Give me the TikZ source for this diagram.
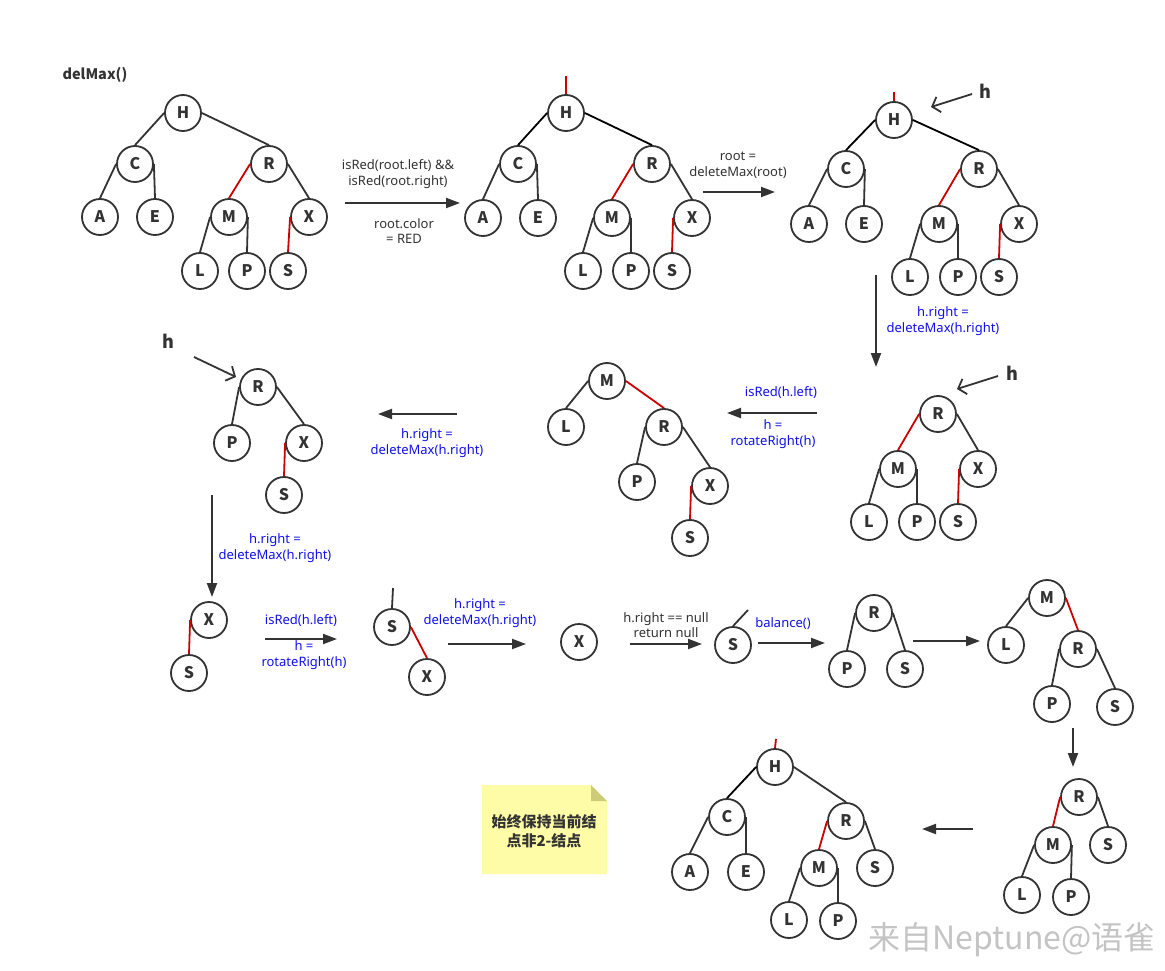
\documentclass[tikz,border=0pt]{standalone}
\usepackage{fontspec}
\setmainfont{Noto Sans}
\newfontfamily\cjkfont{Noto Sans CJK SC}
\usepackage{tikz}
\usetikzlibrary{arrows.meta,positioning,calc}
\definecolor{nodegray}{HTML}{333333}
\definecolor{linkred}{HTML}{CC0000}
\definecolor{opblue}{HTML}{1010F0}
\definecolor{notefill}{HTML}{FFFCA8}
\definecolor{notefold}{HTML}{CDCB78}
\definecolor{markgray}{HTML}{C4C4C4}
\tikzset{
  rbnode/.style={
    circle, draw=nodegray, line width=1.8pt, fill=white,
    minimum size=36pt, inner sep=0pt, text=nodegray,
    font=\cjkfont\bfseries\fontsize{16}{16}\selectfont
  },
  blink/.style={draw=nodegray, line width=1.8pt},
  rlink/.style={draw=linkred, line width=1.8pt},
  klink/.style={draw=black, line width=1.8pt},
  steparrow/.style={
    -{Triangle[length=14pt,width=10pt]}, draw=nodegray, line width=2pt
  },
  hpointer/.style={
    -{Straight Barb[length=7pt,width=16pt]}, draw=nodegray, line width=1.8pt
  },
  oplabel/.style={
    font=\fontsize{13}{15.5}\selectfont, text=nodegray, align=center
  },
  bluelabel/.style={oplabel, text=opblue},
  hlabel/.style={font=\cjkfont\bfseries\fontsize{18}{18}\selectfont, text=nodegray},
}

\begin{document}
\begin{tikzpicture}[x=1pt, y=-1pt]
\useasboundingbox[fill=white] (0,0) rectangle (1165,971);

\node[hlabel, font=\cjkfont\bfseries\fontsize{14.5}{14.5}\selectfont, anchor=west] (title) at (59,75) {delMax()};

% Tree 1: start
\node[rbnode] (t1H) at (183,113) {H};
\node[rbnode] (t1C) at (135,164) {C};
\node[rbnode] (t1R) at (269,164) {R};
\node[rbnode] (t1A) at (100,217) {A};
\node[rbnode] (t1E) at (155,217) {E};
\node[rbnode] (t1M) at (229,217) {M};
\node[rbnode] (t1X) at (309,217) {X};
\node[rbnode] (t1L) at (200,271) {L};
\node[rbnode] (t1P) at (247,271) {P};
\node[rbnode] (t1S) at (288,271) {S};
\draw[blink] (t1H.west) -- (t1C.north);
\draw[blink] (t1H.east) -- (t1R.north);
\draw[blink] (t1C.west) -- (t1A.north);
\draw[blink] (t1C.east) -- (t1E.north);
\draw[rlink] (t1R.west) -- (t1M.north);
\draw[blink] (t1R.east) -- (t1X.north);
\draw[blink] (t1M.west) -- (t1L.north);
\draw[blink] (t1M.east) -- (t1P.north);
\draw[rlink] (t1X.west) -- (t1S.north);

\coordinate (s1a) at (345,203);
\coordinate (s1b) at (460,203);
\draw[steparrow] (s1a) -- (s1b);
\node[oplabel] (s1top) at (398,174) {isRed(root.left) \&\&\\isRed(root.right)};
\node[oplabel] (s1bot) at (404,231) {root.color\\= RED};

% Tree 2: root turned red
\node[rbnode] (t2H) at (566,113) {H};
\node[rbnode] (t2C) at (518,164) {C};
\node[rbnode] (t2R) at (652,164) {R};
\node[rbnode] (t2A) at (483,218) {A};
\node[rbnode] (t2E) at (538,218) {E};
\node[rbnode] (t2M) at (612,218) {M};
\node[rbnode] (t2X) at (692,218) {X};
\node[rbnode] (t2L) at (583,271) {L};
\node[rbnode] (t2P) at (631,271) {P};
\node[rbnode] (t2S) at (672,271) {S};
\coordinate (t2top) at (566,76);
\draw[rlink] (t2top) -- (t2H.north);
\draw[klink] (t2H.west) -- (t2C.north);
\draw[klink] (t2H.east) -- (t2R.north);
\draw[blink] (t2C.west) -- (t2A.north);
\draw[blink] (t2C.east) -- (t2E.north);
\draw[rlink] (t2R.west) -- (t2M.north);
\draw[blink] (t2R.east) -- (t2X.north);
\draw[blink] (t2M.west) -- (t2L.north);
\draw[blink] (t2M.east) -- (t2P.north);
\draw[rlink] (t2X.west) -- (t2S.north);

\coordinate (s2a) at (703,192);
\coordinate (s2b) at (775,192);
\draw[steparrow] (s2a) -- (s2b);
\node[oplabel] (s2top) at (738,165) {root =\\deleteMax(root)};

% Tree 3: h at root
\node[rbnode] (t3H) at (894,120) {H};
\node[rbnode] (t3C) at (846,169) {C};
\node[rbnode] (t3R) at (979,169) {R};
\node[rbnode] (t3A) at (809,224) {A};
\node[rbnode] (t3E) at (864,224) {E};
\node[rbnode] (t3M) at (939,224) {M};
\node[rbnode] (t3X) at (1019,224) {X};
\node[rbnode] (t3L) at (910,277) {L};
\node[rbnode] (t3P) at (958,277) {P};
\node[rbnode] (t3S) at (999,277) {S};
\coordinate (t3top) at (894,92);
\draw[rlink] (t3top) -- (t3H.north);
\draw[klink] (t3H.west) -- (t3C.north);
\draw[klink] (t3H.east) -- (t3R.north);
\draw[blink] (t3C.west) -- (t3A.north);
\draw[blink] (t3C.east) -- (t3E.north);
\draw[rlink] (t3R.west) -- (t3M.north);
\draw[blink] (t3R.east) -- (t3X.north);
\draw[blink] (t3M.west) -- (t3L.north);
\draw[blink] (t3M.east) -- (t3P.north);
\draw[rlink] (t3X.west) -- (t3S.north);
\node[hlabel] (h3) at (985,91) {h};
\coordinate (h3a) at (972,94);
\coordinate (h3b) at (931,107);
\draw[hpointer] (h3a) -- (h3b);

\coordinate (s3a) at (876,275);
\coordinate (s3b) at (876,367);
\draw[steparrow] (s3a) -- (s3b);
\node[bluelabel] (s3lab) at (943,321) {h.right =\\deleteMax(h.right)};

% Tree 4: h at R
\node[rbnode] (t4R) at (938,414) {R};
\node[rbnode] (t4M) at (898,469) {M};
\node[rbnode] (t4X) at (978,469) {X};
\node[rbnode] (t4L) at (869,522) {L};
\node[rbnode] (t4P) at (917,522) {P};
\node[rbnode] (t4S) at (958,522) {S};
\draw[rlink] (t4R.west) -- (t4M.north);
\draw[blink] (t4R.east) -- (t4X.north);
\draw[blink] (t4M.west) -- (t4L.north);
\draw[blink] (t4M.east) -- (t4P.north);
\draw[rlink] (t4X.west) -- (t4S.north);
\node[hlabel] (h4) at (1012,373) {h};
\coordinate (h4a) at (998,376);
\coordinate (h4b) at (957,389);
\draw[hpointer] (h4a) -- (h4b);

\coordinate (s4a) at (817,413);
\coordinate (s4b) at (727,413);
\draw[steparrow] (s4a) -- (s4b);
\node[bluelabel] (s4top) at (781,393) {isRed(h.left)};
\node[bluelabel] (s4bot) at (773,434) {h =\\rotateRight(h)};

% Tree 5: after rotateRight
\node[rbnode] (t5M) at (607,381) {M};
\node[rbnode] (t5L) at (566,427) {L};
\node[rbnode] (t5R) at (664,427) {R};
\node[rbnode] (t5P) at (637,482) {P};
\node[rbnode] (t5X) at (710,486) {X};
\node[rbnode] (t5S) at (690,538) {S};
\draw[blink] (t5M.west) -- (t5L.north);
\draw[rlink] (t5M.east) -- (t5R.north);
\draw[blink] (t5R.west) -- (t5P.north);
\draw[blink] (t5R.east) -- (t5X.north);
\draw[rlink] (t5X.west) -- (t5S.north);

\coordinate (s5a) at (457,414);
\coordinate (s5b) at (378,414);
\draw[steparrow] (s5a) -- (s5b);
\node[bluelabel] (s5lab) at (427,443) {h.right =\\deleteMax(h.right)};

% Tree 6: h at R (second level)
\node[rbnode] (t6R) at (258,387) {R};
\node[rbnode] (t6P) at (232,443) {P};
\node[rbnode] (t6X) at (304,443) {X};
\node[rbnode] (t6S) at (284,495) {S};
\draw[blink] (t6R.west) -- (t6P.north);
\draw[blink] (t6R.east) -- (t6X.north);
\draw[rlink] (t6X.west) -- (t6S.north);
\node[hlabel] (h6) at (168,341) {h};
\coordinate (h6a) at (194,357);
\coordinate (h6b) at (236,377);
\draw[hpointer] (h6a) -- (h6b);

\coordinate (s6a) at (212,495);
\coordinate (s6b) at (212,597);
\draw[steparrow] (s6a) -- (s6b);
\node[bluelabel] (s6lab) at (275,548) {h.right =\\deleteMax(h.right)};

% Row 3: down to the maximum
\node[rbnode] (t7X) at (209,620) {X};
\node[rbnode] (t7S) at (189,673) {S};
\draw[rlink] (t7X.west) -- (t7S.north);

\coordinate (s7a) at (265,639);
\coordinate (s7b) at (337,639);
\draw[steparrow] (s7a) -- (s7b);
\node[bluelabel] (s7top) at (301,621) {isRed(h.left)};
\node[bluelabel] (s7bot) at (304,655) {h =\\rotateRight(h)};

\node[rbnode] (t8S) at (392,627) {S};
\node[rbnode] (t8X) at (427,677) {X};
\coordinate (t8top) at (393,588);
\draw[blink] (t8top) -- (t8S.north);
\draw[rlink] (t8S.east) -- (t8X.north);

\coordinate (s8a) at (448,644);
\coordinate (s8b) at (526,644);
\draw[steparrow] (s8a) -- (s8b);
\node[bluelabel] (s8lab) at (480,613) {h.right =\\deleteMax(h.right)};

\node[rbnode] (t9X) at (579,642) {X};

\coordinate (s9a) at (630,644);
\coordinate (s9b) at (702,644);
\draw[steparrow] (s9a) -- (s9b);
\node[oplabel] (s9lab) at (666,625) {h.right == null\\return null};

\node[rbnode] (t10S) at (733,645) {S};
\coordinate (t10top) at (748,610);
\draw[blink] (t10S.north) -- (t10top);

\coordinate (s10a) at (758,643);
\coordinate (s10b) at (825,643);
\draw[steparrow] (s10a) -- (s10b);
\node[bluelabel] (s10lab) at (783,624) {balance()};

% Back up: rebuilt subtrees
\node[rbnode] (t11R) at (874,613) {R};
\node[rbnode] (t11P) at (847,669) {P};
\node[rbnode] (t11S) at (905,669) {S};
\draw[blink] (t11R.west) -- (t11P.north);
\draw[blink] (t11R.east) -- (t11S.north);

\coordinate (s11a) at (913,641);
\coordinate (s11b) at (980,641);
\draw[steparrow] (s11a) -- (s11b);

\node[rbnode] (t12M) at (1047,598) {M};
\node[rbnode] (t12L) at (1006,645) {L};
\node[rbnode] (t12R) at (1078,649) {R};
\node[rbnode] (t12P) at (1052,704) {P};
\node[rbnode] (t12S) at (1115,707) {S};
\draw[blink] (t12M.west) -- (t12L.north);
\draw[rlink] (t12M.east) -- (t12R.north);
\draw[blink] (t12R.west) -- (t12P.north);
\draw[blink] (t12R.east) -- (t12S.north);

\coordinate (s12a) at (1073,728);
\coordinate (s12b) at (1073,767);
\draw[steparrow] (s12a) -- (s12b);

\node[rbnode] (t13R) at (1079,797) {R};
\node[rbnode] (t13M) at (1053,845) {M};
\node[rbnode] (t13S) at (1108,845) {S};
\node[rbnode] (t13L) at (1022,895) {L};
\node[rbnode] (t13P) at (1071,897) {P};
\draw[rlink] (t13R.west) -- (t13M.north);
\draw[blink] (t13R.east) -- (t13S.north);
\draw[blink] (t13M.west) -- (t13L.north);
\draw[blink] (t13M.east) -- (t13P.north);

\coordinate (s13a) at (973,829);
\coordinate (s13b) at (922,829);
\draw[steparrow] (s13a) -- (s13b);

% Final tree
\node[rbnode] (t14H) at (775,767) {H};
\node[rbnode] (t14C) at (727,817) {C};
\node[rbnode] (t14R) at (846,821) {R};
\node[rbnode] (t14A) at (690,872) {A};
\node[rbnode] (t14E) at (746,872) {E};
\node[rbnode] (t14M) at (819,868) {M};
\node[rbnode] (t14S) at (875,868) {S};
\node[rbnode] (t14L) at (789,920) {L};
\node[rbnode] (t14P) at (838,921) {P};
\coordinate (t14top) at (776,739);
\draw[rlink] (t14top) -- (t14H.north);
\draw[klink] (t14H.west) -- (t14C.north);
\draw[blink] (t14H.east) -- (t14R.north);
\draw[blink] (t14C.west) -- (t14A.north);
\draw[blink] (t14C.east) -- (t14E.north);
\draw[rlink] (t14R.west) -- (t14M.north);
\draw[blink] (t14R.east) -- (t14S.north);
\draw[blink] (t14M.west) -- (t14L.north);
\draw[blink] (t14M.east) -- (t14P.north);

% Sticky note
\fill[notefill] (482,785) -- (591,785) -- (607,801) -- (607,874) -- (482,874) -- cycle;
\fill[notefold] (591,785) -- (607,801) -- (591,801) -- cycle;
\node[font=\cjkfont\bfseries\fontsize{15}{19}\selectfont, text=nodegray, align=center] (note) at (544,831) {始终保持当前结\\点非2-结点};

% Watermark
\node[font=\cjkfont\fontsize{32}{32}\selectfont, text=markgray] (mark) at (1012,940) {来自Neptune@语雀};
\end{tikzpicture}
\end{document}
